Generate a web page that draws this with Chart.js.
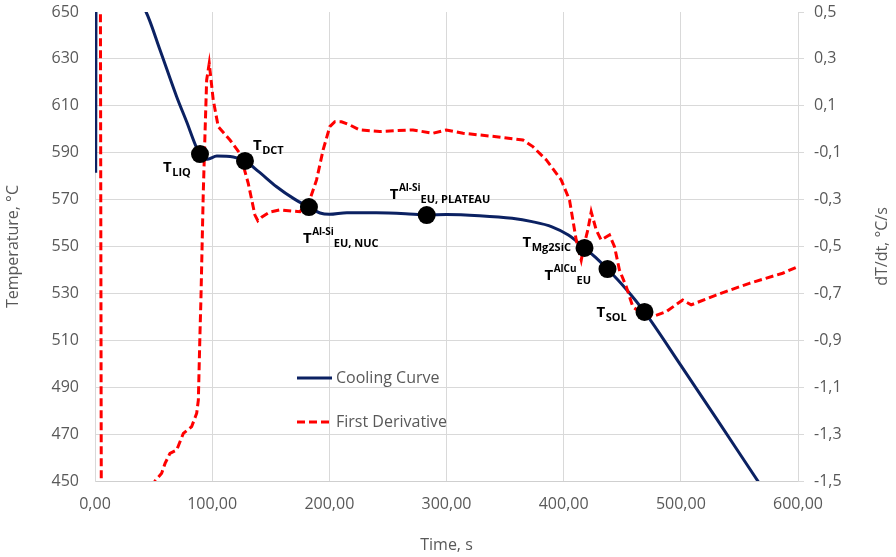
<!DOCTYPE html>
<html>
<head>
<meta charset="utf-8">
<script src="https://cdn.jsdelivr.net/npm/chart.js@4/dist/chart.umd.min.js"></script>
<style>
  html, body { margin: 0; padding: 0; background: #ffffff; }
  #wrap { width: 896px; height: 557px; position: relative; }
</style>
</head>
<body>
<div id="wrap"><canvas id="c" width="896" height="557"></canvas></div>
<script>
// ---- data -------------------------------------------------------------
const coolingTime = [0.6, 1.0, 43.6, 55.5, 69.7, 78.3, 86.8, 89.6, 96, 104, 118, 128, 140, 155, 170, 182.6, 192, 200, 215, 240, 265, 283, 300, 328, 356, 373, 390, 404, 417.8, 427, 437.4, 453, 469, 500, 530, 565.6, 580];
const coolingTemp = [581.5, 680, 650, 633.8, 613.9, 603.1, 592.0, 589.4, 587.2, 588.6, 588.2, 586.5, 581.8, 575.5, 570.3, 566.8, 564.3, 563.7, 564.4, 564.4, 564.0, 563.4, 563.6, 563.1, 562.0, 560.6, 558.4, 554.9, 549.4, 545.5, 540.4, 532.0, 522.1, 499.3, 476.9, 450.1, 439.3];

const derivTime = [4.5, 5.6, 30, 51.2, 56.9, 59.8, 64.0, 69.7, 75.4, 82.5, 86.8, 88.2, 89.6, 90.4, 92.4, 93.9, 95.3, 97.5, 100.9, 105.2, 115.2, 123.7, 130.8, 136.5, 139, 142.5, 149.2, 157.6, 174.9, 183.4, 189.1, 194.7, 200.4, 204.7, 210.4, 217.5, 226.0, 243.0, 257, 271.4, 288.5, 299.9, 314.1, 342.5, 365.2, 373.7, 385.2, 397.9, 405.0, 410.7, 415.0, 417.8, 420.6, 423.5, 427.8, 432.0, 439.1, 443.4, 447.6, 453.4, 459.0, 464.7, 476.0, 487.5, 501.6, 508.8, 530.1, 558.5, 586.9, 599.7];
const derivRate = [0.9, -2.2, -2.5, -1.5, -1.467, -1.425, -1.382, -1.368, -1.297, -1.268, -1.211, -1.155, -0.87, -0.728, -0.273, -0.017, 0.21, 0.281, 0.125, 0.011, -0.046, -0.103, -0.231, -0.366, -0.39, -0.374, -0.353, -0.344, -0.352, -0.30, -0.216, -0.088, 0.011, 0.032, 0.032, 0.018, -0.003, -0.010, -0.006, -0.003, -0.017, -0.003, -0.017, -0.032, -0.046, -0.074, -0.131, -0.216, -0.302, -0.472, -0.558, -0.486, -0.43, -0.352, -0.43, -0.472, -0.451, -0.501, -0.600, -0.671, -0.757, -0.778, -0.799, -0.778, -0.728, -0.749, -0.707, -0.657, -0.614, -0.586];

// characteristic temperatures picked on the cooling curve
const markerTime = [89.6, 128.0, 182.6, 283.1, 417.8, 437.4, 469.0];
const markerTemp = [589.4, 586.5, 566.8, 563.4, 549.4, 540.4, 522.1];
const markerSup  = ['', '', 'Al-Si', 'Al-Si', '', 'AlCu', ''];
const markerSub  = ['LIQ', 'DCT', 'EU, NUC', 'EU, PLATEAU', 'Mg2SiC', 'EU', 'SOL'];

const timeTicks = [0, 100, 200, 300, 400, 500, 600];
const tempTicks = [450, 470, 490, 510, 530, 550, 570, 590, 610, 630, 650];
const rateTicks = [-1.5, -1.3, -1.1, -0.9, -0.7, -0.5, -0.3, -0.1, 0.1, 0.3, 0.5];

// ---- styling ----------------------------------------------------------
const FONT = '"Open Sans", "Liberation Sans", sans-serif';
const TEXT = '#595959';
const GRID = '#d9d9d9';
const NAVY = '#0b2162';
const RED = '#ff0000';

// where each label's "T" sits relative to its marker (px)
const labelOffset = [[-37, 18], [8, -11], [-6, 36], [-37, -16], [-62, -1], [-63, 11], [-48, 5]];
const legendBox = { x: 297, y: 378, rowGap: 44, sample: 35, textGap: 4 };

const zip = (xs, ys) => xs.map((x, i) => ({ x, y: ys[i] }));
const fmtComma = (v, d) => v.toFixed(d).replace('.', ',');
const useTicks = arr => scale => { scale.ticks = arr.map(v => ({ value: v })); };

const markerLabels = {
  id: 'markerLabels',
  afterDatasetsDraw(chart) {
    const ctx = chart.ctx;
    const pts = chart.getDatasetMeta(2).data;
    ctx.save();
    ctx.fillStyle = '#000000';
    ctx.textBaseline = 'alphabetic';
    ctx.textAlign = 'left';
    pts.forEach((p, i) => {
      let x = p.x + labelOffset[i][0];
      const y = p.y + labelOffset[i][1];
      ctx.font = `bold 15px ${FONT}`;
      ctx.fillText('T', x, y);
      x += ctx.measureText('T').width + 0.5;
      if (markerSup[i]) {
        ctx.font = `bold 10px ${FONT}`;
        ctx.fillText(markerSup[i], x, y - 8);
        x += ctx.measureText(markerSup[i]).width;
      }
      if (markerSub[i]) {
        ctx.font = `bold 11px ${FONT}`;
        ctx.fillText(markerSub[i], x, y + 4);
      }
    });
    ctx.restore();
  }
};

const insideLegend = {
  id: 'insideLegend',
  afterDraw(chart) {
    const ctx = chart.ctx;
    ctx.save();
    [0, 1].forEach((di, row) => {
      const ds = chart.data.datasets[di];
      const y = legendBox.y + row * legendBox.rowGap;
      ctx.strokeStyle = ds.borderColor;
      ctx.lineWidth = ds.borderWidth;
      ctx.setLineDash(ds.borderDash || []);
      ctx.beginPath();
      ctx.moveTo(legendBox.x, y);
      ctx.lineTo(legendBox.x + legendBox.sample, y);
      ctx.stroke();
      ctx.setLineDash([]);
      ctx.fillStyle = TEXT;
      ctx.font = `16px ${FONT}`;
      ctx.textBaseline = 'middle';
      ctx.textAlign = 'left';
      ctx.fillText(ds.label, legendBox.x + legendBox.sample + legendBox.textGap, y);
    });
    // secondary axis title, read bottom to top
    const area = chart.chartArea;
    ctx.translate(882, (area.top + area.bottom) / 2);
    ctx.rotate(-Math.PI / 2);
    ctx.fillStyle = TEXT;
    ctx.font = `16px ${FONT}`;
    ctx.textAlign = 'center';
    ctx.textBaseline = 'middle';
    ctx.fillText('dT/dt, °C/s', 0, 0);
    ctx.restore();
  }
};

new Chart(document.getElementById('c'), {
  type: 'line',
  data: {
    datasets: [
      {
        label: 'Cooling Curve',
        data: zip(coolingTime, coolingTemp),
        yAxisID: 'y',
        borderColor: NAVY,
        borderWidth: 3,
        pointRadius: 0,
        cubicInterpolationMode: 'monotone',
        order: 3
      },
      {
        label: 'First Derivative',
        data: zip(derivTime, derivRate),
        yAxisID: 'y1',
        borderColor: RED,
        borderWidth: 3,
        borderDash: [8, 4],
        pointRadius: 0,
        tension: 0,
        order: 2
      },
      {
        label: 'Characteristic points',
        data: zip(markerTime, markerTemp),
        yAxisID: 'y',
        showLine: false,
        pointRadius: 9,
        pointBackgroundColor: '#000000',
        pointBorderWidth: 0,
        order: 1
      }
    ]
  },
  options: {
    responsive: false,
    animation: false,
    devicePixelRatio: 1,
    layout: { padding: 0 },
    plugins: { legend: { display: false }, tooltip: { enabled: false } },
    scales: {
      x: {
        type: 'linear',
        min: 0, max: 600,
        afterBuildTicks: useTicks(timeTicks),
        afterFit: s => { s.height = 76; },
        grid: { color: GRID, lineWidth: 1, drawTicks: false },
        border: { display: true, color: '#cfcfcf', width: 1 },
        ticks: { color: TEXT, font: { family: FONT, size: 16 }, padding: 14, maxRotation: 0,
                 callback: v => fmtComma(v, 2) },
        title: { display: true, text: 'Time, s', color: TEXT, font: { family: FONT, size: 16 },
                 padding: { top: 4, bottom: 2 } }
      },
      y: {
        type: 'linear', position: 'left',
        min: 450, max: 650,
        afterBuildTicks: useTicks(tempTicks),
        afterFit: s => { s.width = 95; s.paddingTop = 12; },
        grid: { color: c => (c.tick && c.tick.value === 650 ? 'rgba(0,0,0,0)' : GRID), lineWidth: 1, drawTicks: false },
        border: { display: true, color: GRID, width: 1 },
        ticks: { color: TEXT, font: { family: FONT, size: 16 }, padding: 16,
                 callback: v => String(v) },
        title: { display: true, text: 'Temperature, °C', color: TEXT, font: { family: FONT, size: 16 },
                 padding: { top: 4, bottom: 4 } }
      },
      y1: {
        type: 'linear', position: 'right',
        min: -1.5, max: 0.5,
        afterBuildTicks: useTicks(rateTicks),
        afterFit: s => { s.width = 98; s.paddingTop = 12; },
        grid: { drawOnChartArea: false, drawTicks: true, tickLength: 6, color: GRID },
        border: { display: true, color: GRID, width: 1 },
        ticks: { color: TEXT, font: { family: FONT, size: 16 }, padding: 10,
                 callback: v => fmtComma(v, 1) }
      }
    }
  },
  plugins: [markerLabels, insideLegend]
});
</script>
</body>
</html>
